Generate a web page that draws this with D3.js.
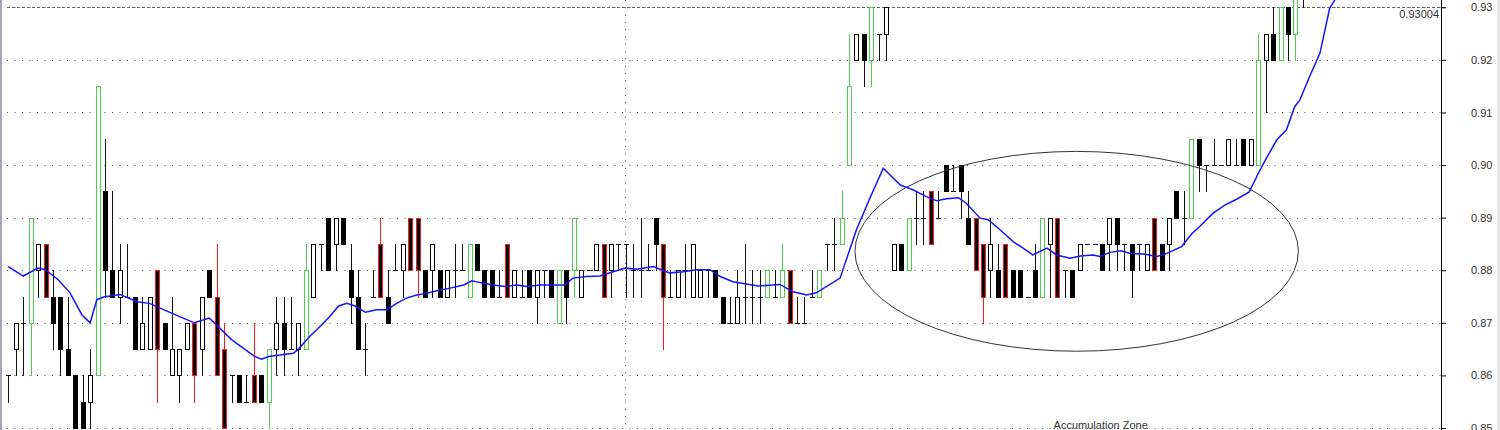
<!DOCTYPE html>
<html>
<head>
<meta charset="utf-8">
<script src="https://cdn.jsdelivr.net/npm/d3@7"></script>
<style>
html, body { margin: 0; padding: 0; background: #fff; overflow: hidden; }
svg { display: block; font-family: "Liberation Sans", Arial, sans-serif; }
</style>
</head>
<body>
<svg width="1500" height="430"></svg>
<script>
// one entry per bar (prices step by 0.005)
var open = [
  .86,.865,.87,.87,.88,.885,.875,.875,.865,.86,
  .855,.855,.86,.895,.88,.875,.875,.875,.865,.865,
  .88,.87,.86,.86,.865,.87,.865,.88,.875,.865,
  .86,.86,.855,.86,.86,.855,.865,.87,.865,.865,
  .865,.875,.885,.89,.885,.89,.88,.875,.865,.875,
  .885,.875,.88,.88,.89,.89,.88,.88,.88,.875,
  .88,.88,.875,.885,.88,.88,.875,.885,.875,.875,
  .88,.875,.88,.88,.87,.88,.88,.875,.88,.88,
  .885,.88,.885,.885,.88,.88,.88,.89,.885,.875,
  .875,.88,.875,.875,.88,.88,.875,.87,.87,.875,
  .875,.875,.875,.875,.875,.88,.87,.87,.875,.875,
  .885,.885,.885,.90,.92,.925,.92,.925,.925,.88,
  .885,.88,.89,.89,.895,.89,.90,.895,.90,.89,
  .89,.885,.88,.88,.885,.88,.88,.875,.88,.875,
  .885,.89,.88,.88,.88,.885,.885,.885,.885,.89,
  .885,.885,.885,.88,.89,.885,.885,.895,.89,.89,
  .905,.90,.90,.90,.90,.90,.905,.90,.90,.92,
  .925,.92,.93,.925,.94
];
var high = [
  .86,.87,.875,.89,.885,.885,.88,.875,.875,.86,
  .86,.865,.915,.905,.895,.885,.885,.875,.875,.875,
  .88,.87,.875,.865,.87,.87,.875,.88,.885,.87,
  .86,.86,.86,.87,.86,.865,.875,.875,.875,.87,
  .885,.885,.885,.89,.89,.89,.885,.88,.87,.88,
  .89,.88,.885,.885,.89,.89,.88,.885,.88,.88,
  .885,.885,.885,.885,.88,.88,.88,.885,.88,.88,
  .88,.88,.88,.88,.88,.88,.89,.88,.88,.885,
  .885,.885,.885,.885,.885,.89,.885,.89,.885,.88,
  .88,.885,.885,.88,.88,.88,.875,.875,.88,.885,
  .88,.88,.88,.88,.885,.88,.875,.875,.88,.88,
  .885,.89,.895,.925,.925,.925,.93,.925,.93,.885,
  .885,.89,.895,.895,.895,.895,.90,.90,.90,.895,
  .89,.885,.89,.885,.885,.88,.88,.875,.885,.89,
  .89,.89,.88,.88,.885,.885,.885,.885,.89,.89,
  .885,.885,.885,.885,.89,.885,.89,.895,.895,.905,
  .905,.90,.905,.90,.905,.905,.905,.905,.925,.925,
  .93,.93,.93,.935,.94
];
var low = [
  .855,.86,.86,.86,.875,.875,.865,.86,.86,.85,
  .85,.85,.86,.875,.875,.87,.875,.865,.865,.865,
  .855,.865,.86,.855,.865,.855,.86,.875,.86,.85,
  .855,.855,.855,.855,.855,.85,.86,.86,.865,.86,
  .865,.875,.88,.88,.88,.885,.87,.865,.86,.875,
  .875,.87,.88,.875,.88,.875,.875,.875,.875,.875,
  .875,.88,.875,.88,.875,.875,.875,.875,.875,.875,
  .875,.87,.875,.875,.87,.87,.875,.875,.88,.88,
  .875,.875,.88,.875,.875,.875,.88,.88,.865,.875,
  .875,.875,.875,.875,.875,.875,.87,.87,.87,.87,
  .87,.87,.875,.875,.875,.87,.87,.87,.875,.875,
  .88,.88,.885,.90,.92,.915,.915,.92,.92,.88,
  .88,.88,.885,.885,.885,.89,.895,.895,.89,.885,
  .88,.87,.875,.875,.875,.875,.875,.875,.875,.875,
  .875,.875,.875,.875,.88,.885,.885,.88,.88,.88,
  .88,.875,.88,.88,.88,.88,.88,.89,.885,.89,
  .895,.895,.90,.90,.90,.90,.90,.90,.90,.91,
  .92,.92,.92,.92,.93
];
var close = [
  .86,.87,.87,.89,.885,.875,.87,.865,.86,.85,
  .85,.86,.915,.88,.875,.88,.875,.865,.87,.875,
  .865,.865,.865,.865,.87,.86,.875,.875,.86,.85,
  .86,.855,.855,.855,.855,.865,.87,.865,.865,.87,
  .88,.885,.885,.88,.89,.885,.875,.865,.865,.875,
  .875,.87,.88,.885,.88,.88,.875,.885,.875,.88,
  .88,.88,.885,.88,.875,.875,.875,.875,.88,.875,
  .875,.88,.88,.875,.88,.875,.89,.88,.88,.885,
  .875,.885,.885,.885,.88,.88,.88,.885,.875,.875,
  .88,.88,.885,.88,.88,.875,.87,.87,.875,.875,
  .875,.875,.88,.875,.88,.87,.87,.87,.875,.88,
  .885,.885,.89,.915,.925,.92,.93,.925,.93,.885,
  .88,.89,.89,.89,.885,.89,.895,.895,.895,.885,
  .88,.875,.885,.875,.875,.875,.875,.875,.875,.89,
  .89,.875,.88,.875,.885,.885,.885,.88,.89,.885,
  .885,.88,.885,.885,.88,.88,.89,.89,.89,.905,
  .90,.90,.90,.90,.905,.90,.90,.905,.92,.925,
  .92,.93,.925,.935,.935
];
// g = green outlined bar, r = red outlined bar
var highlight = (
  "...g.r...." + "..g......." + "r....r..rr" + "...r.g...." +
  "g........." + "r...rr...." + "..g....r.." + "....g.g..." +
  "r.......r." + ".........." + "..g.gr...g" + "..gg..g..." +
  ".g..r....." + "rr..r....g" + ".r........" + "....r....g" +
  "........g." + ".g.g."
).split("");

// moving average as [bar position, price]
var movingAvg = [
  [0,.8807],[2,.8789],[4,.8804],[5,.8801],[6.7,.8782],[8.3,.8757],[9.9,.8715],[11,.8700],
  [11.9,.8744],[12.8,.8749],[15,.8754],[17.3,.8740],[19,.8737],[22,.8718],[25,.8700],
  [27,.8709],[28,.8696],[30,.8668],[33,.8637],[34,.8631],[35,.8636],[38.3,.8642],[39,.8650],
  [40.5,.8674],[41.9,.8693],[43.2,.8712],[44.4,.8732],[45.5,.8737],[46.6,.8732],[48,.8720],
  [49.5,.8725],[50.9,.8725],[52.2,.8737],[53.5,.8747],[54.9,.8753],[56.2,.8756],[57.6,.8761],
  [59.4,.8766],[61.2,.8772],[62.3,.8780],[63.6,.8776],[65.2,.8772],[66.8,.8769],[68.3,.8772],
  [69.7,.8769],[71.5,.8772],[74.8,.8772],[75.9,.8785],[77.7,.8788],[79.5,.8789],[81.3,.8797],
  [82.9,.8804],[84.5,.8802],[86.7,.8807],[87.6,.8802],[88.9,.8795],[90.7,.8797],[92.5,.8801],
  [94.3,.8801],[95.7,.8788],[97.4,.8778],[99.2,.8774],[100.8,.8770],[102.8,.8772],[103.7,.8773],
  [105.5,.8759],[107.3,.8753],[108.6,.8757],[111.8,.8785],[114,.8877],[115.8,.8937],[117.6,.8994],
  [119.9,.8962],[121.6,.8953],[123.4,.8940],[124.8,.8932],[126.1,.8936],[127.7,.8938],
  [128.8,.8927],[130.6,.8899],[131.7,.8896],[133.3,.8877],[135.1,.8854],[136.4,.8842],
  [137.7,.8829],[139.6,.8842],[140.9,.8829],[142.7,.8823],[144.1,.8827],[145.8,.8829],
  [146.7,.8826],[148.1,.8834],[149.6,.8837],[150.8,.8832],[152.6,.8831],[154.4,.8826],
  [155.7,.8832],[157.7,.8845],[159.1,.8870],[160.2,.8884],[161.9,.8908],[163.5,.8924],
  [165.1,.8935],[166.8,.8949],[168,.8984],[169.1,.9013],[170.5,.9048],[171.8,.9067],
  [172.9,.9111],[173.6,.9124],[174.9,.9168],[176.3,.9213],[177.6,.9298],[178.3,.9314]
];

var priceTicks = [0.85, 0.86, 0.87, 0.88, 0.89, 0.90, 0.91, 0.92, 0.93];
var lastPrice = 0.93004;
var sessionBreak = 82.9;   // bar position of the vertical separator
// ellipse drawn around the range: centre bar, centre price, half width in bars, half height in price
var zoneBar = 143.6, zonePrice = 0.8836, zoneHalfBars = 29.8, zoneHalfPrice = 0.019;
var zoneLabel = "Accumulation Zone";

var svg = d3.select("svg"),
    width = +svg.attr("width"),
    height = +svg.attr("height");

var axisX = 1441;
var x = d3.scaleLinear().domain([0, 174]).range([8.3, 8.3 + 174 * 7.44]);
var y = d3.scaleLinear().domain([0.85, 0.93]).range([428, 7.3]);

var GREEN = "#4fcf4f", RED = "#ff1a1a";

svg.append("rect").attr("width", width).attr("height", height).attr("fill", "#fff");
svg.append("rect").attr("x", 0).attr("width", 2).attr("height", height).attr("fill", "#a3a7b3");
svg.append("rect").attr("x", width - 3).attr("width", 3).attr("height", height).attr("fill", "#e6e6e6");

// dotted grid
svg.append("g").selectAll("line")
    .data(priceTicks)
  .enter().append("line")
    .attr("x1", 7).attr("x2", axisX)
    .attr("y1", function(d) { return Math.round(y(d)) + 0.5; })
    .attr("y2", function(d) { return Math.round(y(d)) + 0.5; })
    .attr("stroke", "#555")
    .attr("stroke-dasharray", "1,6.5");

svg.append("line")
    .attr("x1", Math.round(x(sessionBreak)) + 0.5).attr("x2", Math.round(x(sessionBreak)) + 0.5)
    .attr("y1", 0).attr("y2", height)
    .attr("stroke", "#555")
    .attr("stroke-dasharray", "1,6.3");

// last price line
svg.append("line")
    .attr("x1", 7).attr("x2", axisX + 5)
    .attr("y1", Math.round(y(lastPrice)) + 0.5).attr("y2", Math.round(y(lastPrice)) + 0.5)
    .attr("stroke", "#666")
    .attr("stroke-dasharray", "3,2");

svg.append("text")
    .attr("x", axisX - 2)
    .attr("y", y(lastPrice) + 11)
    .attr("text-anchor", "end")
    .attr("font-size", 11)
    .attr("fill", "#333")
    .text(d3.format(".5f")(lastPrice));

// candles
var bars = d3.range(open.length).map(function(i) {
  return { i: i, o: open[i], h: high[i], l: low[i], c: close[i], mark: highlight[i] };
});

function lineColor(d) {
  return d.mark === "g" ? GREEN : d.mark === "r" ? RED : "#111";
}
function px(d) { return Math.round(x(d.i)); }

var candle = svg.append("g").attr("class", "candles")
  .selectAll("g")
    .data(bars)
  .enter().append("g");

candle.append("line")
    .attr("x1", function(d) { return px(d) + 0.5; })
    .attr("x2", function(d) { return px(d) + 0.5; })
    .attr("y1", function(d) { return Math.round(y(d.h)); })
    .attr("y2", function(d) { return Math.round(y(d.l)) + 1; })
    .attr("stroke", lineColor);

candle.filter(function(d) { return d.o !== d.c; })
  .append("rect")
    .attr("x", function(d) { return px(d) - 1.5; })
    .attr("width", 4)
    .attr("y", function(d) { return Math.round(y(Math.max(d.o, d.c))) + 0.5; })
    .attr("height", function(d) { return Math.round(y(Math.min(d.o, d.c))) - Math.round(y(Math.max(d.o, d.c))); })
    .attr("fill", function(d) { return d.c > d.o ? "#fff" : "#000"; })
    .attr("stroke", function(d) { return d.mark === "g" ? GREEN : d.mark === "r" ? RED : "#000"; });

candle.filter(function(d) { return d.o === d.c; })
  .append("line")
    .attr("x1", function(d) { return px(d) - 2; })
    .attr("x2", function(d) { return px(d) + 3; })
    .attr("y1", function(d) { return Math.round(y(d.o)) + 0.5; })
    .attr("y2", function(d) { return Math.round(y(d.o)) + 0.5; })
    .attr("stroke", lineColor);

// accumulation ellipse
svg.append("ellipse")
    .attr("cx", x(zoneBar))
    .attr("cy", y(zonePrice))
    .attr("rx", x(zoneHalfBars) - x(0))
    .attr("ry", y(0.85) - y(0.85 + zoneHalfPrice))
    .attr("fill", "none")
    .attr("stroke", "#333")
    .attr("stroke-width", 1);

// moving average
svg.append("path")
    .datum(movingAvg)
    .attr("fill", "none")
    .attr("stroke", "#1414ff")
    .attr("stroke-width", 1.5)
    .attr("d", d3.line()
        .x(function(d) { return x(d[0]); })
        .y(function(d) { return y(d[1]); }));

svg.append("text")
    .attr("x", x(140.5))
    .attr("y", y(0.85) + 1)
    .attr("font-size", 11)
    .attr("fill", "#333")
    .text(zoneLabel);

// price axis
var axis = d3.axisRight(y)
    .tickValues(priceTicks)
    .tickFormat(d3.format(".2f"))
    .tickSize(5)
    .tickPadding(25);

var gAxis = svg.append("g")
    .attr("transform", "translate(" + axisX + ",0)")
    .call(axis)
    .attr("font-size", 11)
    .attr("font-family", '"Liberation Sans", Arial, sans-serif');
gAxis.select(".domain").remove();
gAxis.selectAll("line").attr("stroke", "#000");
gAxis.selectAll("text").attr("fill", "#333");

svg.append("line")
    .attr("x1", axisX + 0.5).attr("x2", axisX + 0.5)
    .attr("y1", 0).attr("y2", height)
    .attr("stroke", "#000");
</script>
</body>
</html>
